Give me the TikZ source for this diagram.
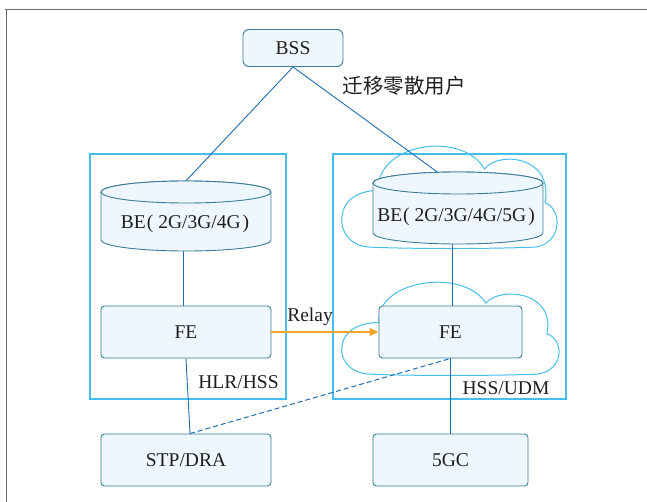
\documentclass[tikz,border=0pt]{standalone}
\usepackage{fontspec}
\setmainfont{Liberation Serif}
\newfontfamily\cjk{Noto Sans CJK SC}
\usetikzlibrary{arrows.meta}
\definecolor{boxfill}{HTML}{EEF7FD}
\definecolor{boxdraw}{HTML}{3C7C98}
\definecolor{linkblue}{HTML}{1F6DB2}
\definecolor{cyanline}{HTML}{45BEEE}
\definecolor{relayorange}{HTML}{F5A52A}
\definecolor{txt}{HTML}{1E1E1E}
\definecolor{framegray}{HTML}{6A6A6A}
\tikzset{
  every node/.style={text=txt, font=\fontsize{19.5bp}{23bp}\selectfont},
  box/.style={draw=boxdraw, fill=boxfill, rounded corners=3.5bp, line width=0.9bp, minimum height=52bp, inner sep=0pt},
  shell/.style={draw=none, inner sep=0pt, minimum width=170bp},
  cylbody/.style={draw=boxdraw, fill=boxfill, line width=0.9bp},
  container/.style={draw=cyanline, line width=1.2bp, inner sep=0pt},
  cloudline/.style={draw=cyanline, line width=1bp},
  link/.style={draw=linkblue, line width=0.9bp},
  dashlink/.style={draw=linkblue, line width=1bp, dash pattern=on 5bp off 3bp},
  relay/.style={draw=relayorange, line width=1.1bp, -{Triangle[length=9bp,width=8bp]}},
  framestyle/.style={draw=framegray, line width=1.4bp},
}
\newcommand{\cloudshape}{%
  \draw[cloudline] (0.12,0.99) .. controls (0.03,0.97) and (-0.01,0.82) .. (0,0.686)
    .. controls (0.01,0.50) and (0.09,0.43) .. (0.17,0.43)
    .. controls (0.15,-0.02) and (0.55,-0.18) .. (0.66,0.218)
    .. controls (0.72,0.04) and (0.98,0.08) .. (0.94,0.55)
    .. controls (1.02,0.62) and (1.02,0.94) .. (0.90,0.99)
    .. controls (0.70,1.01) and (0.30,1.01) .. cycle;}
\begin{document}
\begin{tikzpicture}[x=1bp, y=-1bp]
\useasboundingbox (0,0) rectangle (647,502);
% frame
\draw[framestyle] (5,9.5) -- (647,9.5);
\draw[framestyle] (6.5,9.5) -- (6.5,502);
% containers
\node[container, minimum width=196bp, minimum height=245bp] (hlr) at (188,276.5) {};
\node[container, minimum width=233bp, minimum height=245bp] (udm) at (449.5,276.5) {};
% clouds
\begin{scope}[shift={(342,147)}, x=216bp, y=-101bp]
\cloudshape
\end{scope}
\begin{scope}[shift={(342,283)}, x=218bp, y=-92bp]
\cloudshape
\end{scope}
% nodes
\node[box, minimum width=100bp, minimum height=37bp, rounded corners=6bp] (bss) at (293,48) {BSS};
\node[shell, minimum height=70bp] (leftBE) at (186,216) {};
\filldraw[cylbody] (101,192) -- (101,240)
    arc[start angle=180, end angle=360, x radius=85bp, y radius=11bp]
    -- (271,192)
    arc[start angle=0, end angle=180, x radius=85bp, y radius=11bp] -- cycle;
\draw[cylbody] (186,192) ellipse[x radius=85bp, y radius=11bp];
\node (leftBEtext) at (185,224) {BE\kern1bp(\kern5bp2G/3G/4G\kern2bp)};
\node[shell, minimum height=72bp] (rightBE) at (458,208) {};
\filldraw[cylbody] (373,183) -- (373,233)
    arc[start angle=180, end angle=360, x radius=85bp, y radius=11bp]
    -- (543,183)
    arc[start angle=0, end angle=180, x radius=85bp, y radius=11bp] -- cycle;
\draw[cylbody] (458,183) ellipse[x radius=85bp, y radius=11bp];
\node (rightBEtext) at (456,217) {BE\kern1bp(\kern5bp2G/3G/4G/5G\kern2bp)};
\node[box, minimum width=170bp] (leftFE) at (186,332) {FE};
\node[box, minimum width=143bp] (rightFE) at (450.5,332) {FE};
\node[box, minimum width=170bp] (stp) at (186,460) {STP/DRA};
\node[box, minimum width=155bp] (fivegc) at (450.5,460) {5GC};
% labels
\node (migr) at (404,86) {\cjk\fontsize{20.5bp}{24bp}\selectfont 迁移零散用户};
\node (hlrlabel) at (238.5,382) {HLR/HSS};
\node (udmlabel) at (506,388) {HSS/UDM};
\node (relaylabel) at (310,317) {Relay};
% connectors
\draw[link] (bss.south) -- (leftBE.north);
\draw[link] (bss.south) -- ([xshift=-21bp]rightBE.north);
\draw[link] ([xshift=-3bp]leftBE.south) -- ([xshift=-3bp]leftFE.north);
\draw[link] ([xshift=2bp]rightFE.north |- rightBE.south) -- ([xshift=2bp]rightFE.north);
\draw[relay] (leftFE.east) -- (rightFE.west);
\draw[link] (leftFE.south) -- ([xshift=4bp]stp.north);
\draw[dashlink] ([xshift=4bp]stp.north) -- (rightFE.south);
\draw[link] (rightFE.south) -- (fivegc.north);
\end{tikzpicture}
\end{document}
